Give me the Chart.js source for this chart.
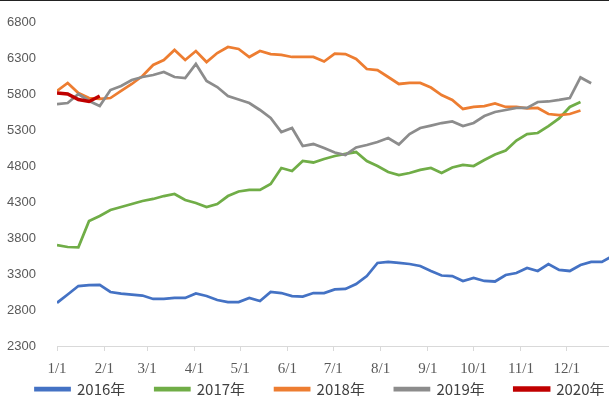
<!DOCTYPE html>
<html>
<head>
<meta charset="utf-8">
<script src="https://cdn.jsdelivr.net/npm/chart.js@4"></script>
<style>
  html, body { margin: 0; padding: 0; background: #fff; overflow: hidden; }
  #wrap { position: relative; width: 640px; height: 404px; }
  #topline { position: absolute; left: 0; top: 0; width: 609px; height: 1px; background: #222; z-index: 2; }
</style>
</head>
<body>
<div id="topline"></div>
<div id="wrap"><canvas id="chart"></canvas></div>
<script>
// weekly prices, one entry per week starting 1/1
const s2016 = [2900, 3015, 3133, 3147, 3150, 3050, 3029, 3015, 3001, 2953, 2953, 2967, 2967, 3029, 2994, 2939, 2911, 2911, 2967, 2925, 3050, 3036, 2994, 2987, 3036, 3036, 3085, 3092, 3161, 3272, 3453, 3467, 3453, 3439, 3411, 3342, 3279, 3272, 3203, 3244, 3203, 3196, 3286, 3314, 3383, 3342, 3439, 3356, 3342, 3425, 3467, 3467, 3550];
const s2017 = [3703, 3675, 3670, 4036, 4106, 4189, 4230, 4272, 4314, 4342, 4383, 4411, 4328, 4286, 4230, 4272, 4383, 4446, 4467, 4467, 4550, 4772, 4731, 4870, 4849, 4897, 4939, 4967, 4994, 4870, 4800, 4717, 4675, 4703, 4745, 4772, 4703, 4780, 4814, 4800, 4883, 4960, 5015, 5154, 5244, 5258, 5355, 5460, 5620, 5690];
const s2018 = [5842, 5953, 5814, 5744, 5731, 5744, 5842, 5939, 6050, 6203, 6272, 6411, 6272, 6397, 6244, 6369, 6453, 6425, 6314, 6397, 6355, 6342, 6314, 6314, 6314, 6251, 6362, 6355, 6286, 6147, 6133, 6036, 5939, 5953, 5953, 5890, 5786, 5717, 5592, 5620, 5633, 5668, 5620, 5620, 5599, 5606, 5522, 5508, 5522, 5570];
const s2019 = [5661, 5675, 5800, 5703, 5633, 5855, 5911, 5994, 6036, 6064, 6106, 6036, 6022, 6217, 5981, 5897, 5772, 5724, 5675, 5578, 5467, 5272, 5328, 5078, 5105, 5050, 4987, 4953, 5057, 5092, 5133, 5189, 5098, 5244, 5328, 5362, 5397, 5418, 5355, 5397, 5494, 5550, 5578, 5606, 5606, 5689, 5696, 5717, 5744, 6030, 5950];
const s2020 = [5814, 5800, 5724, 5696, 5772];

const seriesNames = ["2016年", "2017年", "2018年", "2019年", "2020年"];
const seriesColors = ["#4472C4", "#70AD47", "#ED7D31", "#8C8C8C", "#C00000"];
const monthDays = [0, 31, 59, 90, 120, 151, 181, 212, 243, 273, 304, 334];
const monthLabels = ["1/1", "2/1", "3/1", "4/1", "5/1", "6/1", "7/1", "8/1", "9/1", "10/1", "11/1", "12/1"];
const yTicks = [2300, 2800, 3300, 3800, 4300, 4800, 5300, 5800, 6300, 6800];

const allSeries = [s2016, s2017, s2018, s2019, s2020];

const datasets = allSeries.map((values, i) => ({
  label: seriesNames[i],
  data: values.map((v, w) => ({ x: w * 7, y: v })),
  borderColor: seriesColors[i],
  backgroundColor: seriesColors[i],
  borderWidth: i === 4 ? 3.5 : 2.75,
  pointRadius: 0,
  tension: 0,
  order: allSeries.length - i
}));

// keep the legend low and thin, like the original
const LEGEND_PAD = 30;
const legendFix = {
  id: "legendFix",
  beforeInit(chart) {
    const fit = chart.legend.fit;
    chart.legend.fit = function () {
      fit.call(this);
      this.height = 17;
    };
  },
  afterLayout(chart) {
    chart.legend.top = 389 - LEGEND_PAD - 7.5;
  }
};

new Chart(document.getElementById("chart"), {
  type: "line",
  data: { datasets },
  plugins: [legendFix],
  options: {
    responsive: true,
    maintainAspectRatio: false,
    animation: false,
    layout: { padding: { top: 22, right: 0, left: 0, bottom: 0 } },
    plugins: {
      tooltip: { enabled: false },
      legend: {
        position: "bottom",
        labels: {
          boxWidth: 34,
          boxHeight: 2,
          padding: LEGEND_PAD,
          color: "#404040",
          font: { family: "'Noto Sans CJK SC', sans-serif", size: 15 },
          sort: (a, b) => a.datasetIndex - b.datasetIndex
        }
      }
    },
    scales: {
      x: {
        type: "linear",
        min: 0,
        max: 382,
        afterBuildTicks: scale => {
          scale.ticks = monthDays.map(d => ({ value: d }));
        },
        ticks: {
          autoSkip: false,
          maxRotation: 0,
          padding: 9,
          color: "#595959",
          font: { family: "'Liberation Serif', serif", size: 15 },
          callback: (v, i) => monthLabels[i]
        },
        grid: { drawOnChartArea: false, drawTicks: true, tickLength: 5, color: "#d9d9d9" },
        border: { display: true, color: "#d9d9d9" }
      },
      y: {
        min: 2300,
        max: 6800,
        afterBuildTicks: scale => {
          scale.ticks = yTicks.map(v => ({ value: v }));
        },
        afterFit: scale => { scale.width = 57; },
        ticks: {
          padding: 13,
          color: "#595959",
          font: { family: "'Liberation Sans', sans-serif", size: 13 },
          callback: v => String(v)
        },
        grid: { display: false },
        border: { display: false }
      }
    }
  }
});
</script>
</body>
</html>
